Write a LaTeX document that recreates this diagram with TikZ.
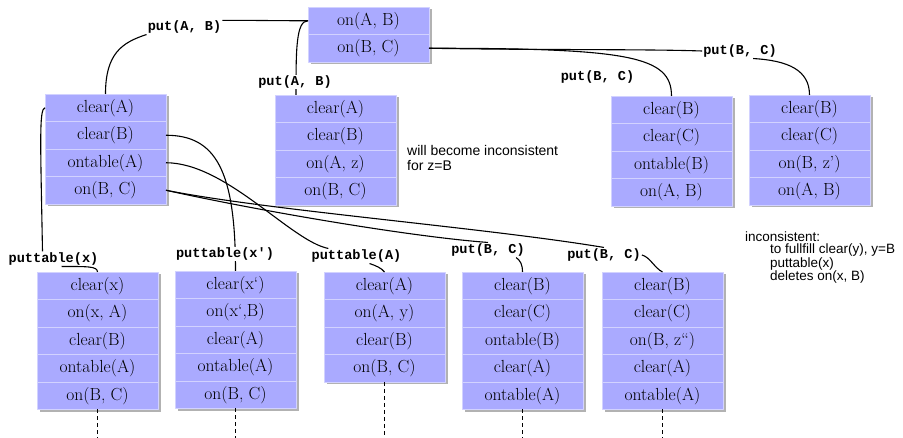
\documentclass[tikz,border=0pt]{standalone}
\usepackage{fontspec}
\newfontfamily\codefont{Liberation Mono}
\newfontfamily\notefont{Liberation Sans}
\usetikzlibrary{positioning,shadows}
\definecolor{factblue}{RGB}{170,170,255}
\definecolor{factline}{RGB}{210,210,255}
\tikzset{
  fact/.style={fill=factblue,draw=factline,line width=.7pt,outer sep=0pt,inner sep=0pt,
    minimum width=121pt,minimum height=27.5pt,font={\fontsize{17.5}{20}\selectfont},
    drop shadow={shadow xshift=2.5pt,shadow yshift=-2.5pt,opacity=.3,fill=black}},
  op/.style={font={\codefont\bfseries\fontsize{13.6}{15}\selectfont},inner sep=1pt},
  note/.style={font={\notefont\fontsize{14}{15}\selectfont},inner sep=0pt,align=left,anchor=north west},
  link/.style={line width=1.1pt},
  more/.style={line width=1pt,dash pattern=on 4pt off 3pt}
}
\begin{document}
\begin{tikzpicture}[x=1pt,y=-1pt,line join=round]
  \useasboundingbox (0,0) rectangle (903,438);
  \coordinate (floor) at (0,438);
  % goal
  \node[fact] (T1) at (368.5,20.75) {on(A, B)};
  \node[fact,below=0pt of T1] (T2) {on(B, C)};
  % first regression step
  \node[fact] (L1) at (105.5,107.75) {clear(A)};
  \node[fact,below=0pt of L1] (L2) {clear(B)};
  \node[fact,below=0pt of L2] (L3) {ontable(A)};
  \node[fact,below=0pt of L3] (L4) {on(B, C)};
  \node[fact] (M1) at (335.5,108.75) {clear(A)};
  \node[fact,below=0pt of M1] (M2) {clear(B)};
  \node[fact,below=0pt of M2] (M3) {on(A, z)};
  \node[fact,below=0pt of M3] (M4) {on(B, C)};
  \node[fact] (Ra1) at (671.5,109.75) {clear(B)};
  \node[fact,below=0pt of Ra1] (Ra2) {clear(C)};
  \node[fact,below=0pt of Ra2] (Ra3) {ontable(B)};
  \node[fact,below=0pt of Ra3] (Ra4) {on(A, B)};
  \node[fact] (Rb1) at (809.5,108.75) {clear(B)};
  \node[fact,below=0pt of Rb1] (Rb2) {clear(C)};
  \node[fact,below=0pt of Rb2] (Rb3) {on(B, z’)};
  \node[fact,below=0pt of Rb3] (Rb4) {on(A, B)};
  % second regression step
  \node[fact] (Ba1) at (97.5,285.75) {clear(x)};
  \node[fact,below=0pt of Ba1] (Ba2) {on(x, A)};
  \node[fact,below=0pt of Ba2] (Ba3) {clear(B)};
  \node[fact,below=0pt of Ba3] (Ba4) {ontable(A)};
  \node[fact,below=0pt of Ba4] (Ba5) {on(B, C)};
  \node[fact] (Bb1) at (235.5,284.75) {clear(x‘)};
  \node[fact,below=0pt of Bb1] (Bb2) {on(x‘,B)};
  \node[fact,below=0pt of Bb2] (Bb3) {clear(A)};
  \node[fact,below=0pt of Bb3] (Bb4) {ontable(A)};
  \node[fact,below=0pt of Bb4] (Bb5) {on(B, C)};
  \node[fact] (Bc1) at (384.5,285.75) {clear(A)};
  \node[fact,below=0pt of Bc1] (Bc2) {on(A, y)};
  \node[fact,below=0pt of Bc2] (Bc3) {clear(B)};
  \node[fact,below=0pt of Bc3] (Bc4) {on(B, C)};
  \node[fact] (Bd1) at (522.5,285.75) {clear(B)};
  \node[fact,below=0pt of Bd1] (Bd2) {clear(C)};
  \node[fact,below=0pt of Bd2] (Bd3) {ontable(B)};
  \node[fact,below=0pt of Bd3] (Bd4) {clear(A)};
  \node[fact,below=0pt of Bd4] (Bd5) {ontable(A)};
  \node[fact] (Be1) at (662.5,285.75) {clear(B)};
  \node[fact,below=0pt of Be1] (Be2) {clear(C)};
  \node[fact,below=0pt of Be2] (Be3) {on(B, z“)};
  \node[fact,below=0pt of Be3] (Be4) {clear(A)};
  \node[fact,below=0pt of Be4] (Be5) {ontable(A)};
  % operators
  \node[op] (pab1) at (184.5,27) {put(A, B)};
  \node[op] (pbc1) at (740,51) {put(B, C)};
  \node[op] (pbc2) at (597.5,77) {put(B, C)};
  \node[op] (ptx) at (53.5,259) {puttable(x)};
  \node[op] (ptA) at (356.5,256) {puttable(A)};
  \node[op] (pbc3) at (488,250) {put(B, C)};
  \node[op] (pbc4) at (604,255) {put(B, C)};
  % links
  \draw[link] (L1.north) .. controls +(0,-40) and +(-25,8) .. (pab1.south west);
  \draw[link] (pab1.10) to[out=0,in=180] (T1.west);
  \draw[link] (T1.west) .. controls +(-12,0) and +(0,-45) .. ([xshift=21pt]M1.north west);
  \draw[link] (T2.east) .. controls +(120,2) and +(-60,-2) .. (pbc1.west);
  \draw[link] (pbc1.-30) .. controls +(35,2) and +(0,-25) .. (Rb1.north);
  \draw[link] (T2.east) .. controls +(200,0) and +(0,-40) .. (Ra1.north);
  \draw[link] (L1.west) .. controls +(-6,1) and +(-2,-110) .. ([xshift=-11pt]ptx.north);
  \draw[link] ([xshift=8pt]ptx.south) .. controls +(25,0) and +(0,-6) .. (Ba1.north);
  \draw[link] (L2.east) .. controls +(50,0) and +(0,-100) .. (Bb1.north);
  \draw[link] (L3.east) .. controls +(60,0) and +(-37,-7) .. (ptA.165);
  \draw[link] (ptA.-30) .. controls +(6,2) and +(-3,-4) .. (Bc1.north);
  \draw[link] (L4.east) .. controls +(90,20) and +(-80,-6) .. (pbc3.north);
  \draw[link] (L4.east) .. controls +(100,20) and +(-120,-20) .. (pbc4.north);
  \draw[link] (pbc3.-15) .. controls +(4,3) and +(0,-8) .. (Bd1.north);
  \draw[link] (pbc4.east) .. controls +(8,2) and +(-8,-4) .. (Be1.north);
  % labels sitting on a link
  \node[op,fill=white] (pab2) at (295,82) {put(A, B)};
  \node[op,fill=white] (ptxp) at (225,254) {puttable(x')};
  % open ends
  \draw[more] (Ba5.south) -- (Ba5.south |- floor);
  \draw[more] (Bb5.south) -- (Bb5.south |- floor);
  \draw[more] (Bc4.south) -- (Bc4.south |- floor);
  \draw[more] (Bd5.south) -- (Bd5.south |- floor);
  \draw[more] (Be5.south) -- (Be5.south |- floor);
  % remarks
  \node[note] (warnz) at (407,145) {will become inconsistent\\for z=B};
  \node[note,font={\notefont\fontsize{13.5}{12.3}\selectfont}] (warnx) at (745,231.5)
    {inconsistent:\\\hspace*{25pt}to fullfill clear(y), y=B\\\hspace*{25pt}puttable(x)\\\hspace*{25pt}deletes on(x, B)};
\end{tikzpicture}
\end{document}
